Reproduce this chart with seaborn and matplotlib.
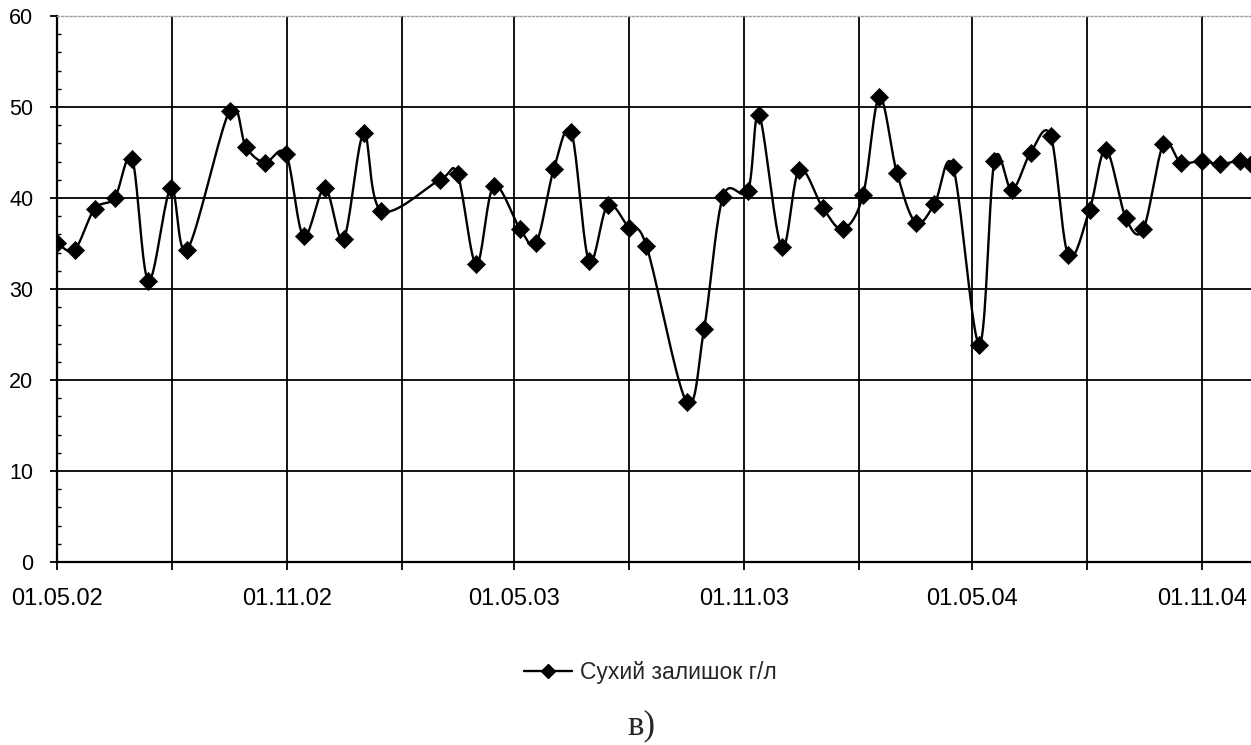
import numpy as np
import pandas as pd
import matplotlib
matplotlib.use("Agg")
import matplotlib.pyplot as plt
import matplotlib.dates as mdates
from matplotlib.lines import Line2D
import matplotlib.ticker as mticker
import seaborn as sns

# ---- data ----
dates = [
    "2002-05-01", "2002-05-15", "2002-05-31", "2002-06-16", "2002-06-30",
    "2002-07-13", "2002-07-31", "2002-08-13", "2002-09-16", "2002-09-29",
    "2002-10-14", "2002-10-31", "2002-11-14", "2002-12-01", "2002-12-16",
    "2003-01-01", "2003-01-15", "2003-03-03", "2003-03-17", "2003-04-01",
    "2003-04-15", "2003-05-06", "2003-05-19", "2003-06-02", "2003-06-16",
    "2003-06-30", "2003-07-15", "2003-08-01", "2003-08-15", "2003-09-16",
    "2003-09-30", "2003-10-15", "2003-11-04", "2003-11-13", "2003-12-01",
    "2003-12-15", "2004-01-03", "2004-01-19", "2004-02-04", "2004-02-17",
    "2004-03-02", "2004-03-17", "2004-04-01", "2004-04-16", "2004-05-07",
    "2004-05-19", "2004-06-02", "2004-06-17", "2004-07-03", "2004-07-17",
    "2004-08-03", "2004-08-16", "2004-09-01", "2004-09-15", "2004-10-01",
    "2004-10-15", "2004-11-01", "2004-11-15", "2004-12-01", "2004-12-10",
]
values = [
    35.1, 34.3, 38.8, 40.0, 44.3,
    30.9, 41.1, 34.3, 49.6, 45.6,
    43.9, 44.8, 35.8, 41.1, 35.5,
    47.1, 38.6, 42.0, 42.6, 32.7,
    41.3, 36.6, 35.1, 43.2, 47.2,
    33.1, 39.2, 36.7, 34.7, 17.6,
    25.6, 40.1, 40.8, 49.1, 34.6,
    43.1, 38.9, 36.6, 40.3, 51.1,
    42.8, 37.3, 39.3, 43.4, 23.9,
    44.1, 40.9, 45.0, 46.8, 33.7,
    38.7, 45.3, 37.8, 36.6, 45.9,
    43.9, 44.1, 43.7, 44.1, 43.7,
]
series_label = "Сухий залишок г/л"
caption = "в)"
y_ticks = [0, 10, 20, 30, 40, 50, 60]
grid_dates = ["2002-08-01", "2002-11-01", "2003-02-01", "2003-05-01", "2003-08-01",
              "2003-11-01", "2004-02-01", "2004-05-01", "2004-08-01", "2004-11-01"]

df = pd.DataFrame({"date": pd.to_datetime(dates), "value": values})
df["x"] = mdates.date2num(df["date"])

# smoothed curve (Catmull-Rom through the data points, like Excel's smoothed line)
def catmull_rom(xs, ys, n=20):
    xs = np.asarray(xs, float); ys = np.asarray(ys, float)
    px = np.concatenate([[xs[0]], xs, [xs[-1]]])
    py = np.concatenate([[ys[0]], ys, [ys[-1]]])
    ox, oy = [], []
    t = np.linspace(0, 1, n, endpoint=False)
    for i in range(1, len(px) - 2):
        for P, out in ((px, ox), (py, oy)):
            p0, p1, p2, p3 = P[i - 1], P[i], P[i + 1], P[i + 2]
            out.extend(0.5 * ((2 * p1) + (-p0 + p2) * t
                              + (2 * p0 - 5 * p1 + 4 * p2 - p3) * t ** 2
                              + (-p0 + 3 * p1 - 3 * p2 + p3) * t ** 3))
    ox.append(xs[-1]); oy.append(ys[-1])
    return np.array(ox), np.array(oy)

sx, sy = catmull_rom(df["x"], df["value"])
smooth = pd.DataFrame({"x": sx, "value": sy})

sns.set_theme(style="white")
plt.rcParams["font.family"] = ["Liberation Sans", "DejaVu Sans"]

fig = plt.figure(figsize=(12.51, 7.45), dpi=100)
ax = fig.add_axes([57 / 1251, 1 - 562 / 745, 1194 / 1251, (562 - 16) / 745])

sns.lineplot(data=smooth, x="x", y="value", ax=ax, color="black", lw=1.7,
             sort=False, estimator=None)
sns.scatterplot(data=df, x="x", y="value", ax=ax, marker="D", s=85,
                color="black", edgecolor="black", linewidth=0.5, zorder=5)

ax.set_xlim(df["x"].iloc[0], df["x"].iloc[-1])
ax.set_ylim(0, 60)
ax.set_xlabel("")
ax.set_ylabel("")

# x axis: major every 3 months, labels for May and November
ax.xaxis.set_major_locator(mdates.MonthLocator(bymonth=[2, 5, 8, 11]))
def xfmt(v, pos):
    d = mdates.num2date(v)
    return d.strftime("%d.%m.%y") if d.month in (5, 11) else ""
ax.xaxis.set_major_formatter(mticker.FuncFormatter(xfmt))
ax.set_yticks(y_ticks)
ax.yaxis.set_minor_locator(mticker.MultipleLocator(2))

ax.tick_params(axis="x", which="major", direction="out", length=6, width=1.3,
               color="black", labelsize=17, pad=13, bottom=True)
ax.tick_params(axis="y", which="major", direction="out", length=5, width=1.3,
               color="black", labelsize=15.5, pad=12, left=True)
ax.tick_params(axis="y", which="minor", direction="in", length=3, width=1.0,
               color="black", left=True)
for lbl in ax.get_xticklabels() + ax.get_yticklabels():
    lbl.set_color("black")

# grid
ax.grid(False)
for v in mdates.date2num(pd.to_datetime(grid_dates)):
    ax.axvline(v, color="black", lw=1.3, zorder=1)
for v in y_ticks[1:-1]:
    ax.axhline(v, color="black", lw=1.3, zorder=1)

ax.spines["right"].set_visible(False)
ax.spines["top"].set_color("#a0a0a0")
ax.spines["top"].set_linestyle((0, (1.5, 1.5)))
ax.spines["top"].set_linewidth(1.0)
ax.spines["left"].set_color("black")
ax.spines["left"].set_linewidth(1.6)
ax.spines["bottom"].set_color("black")
ax.spines["bottom"].set_linewidth(1.6)

if ax.get_legend():
    ax.get_legend().remove()

handle = Line2D([], [], color="black", lw=1.7, marker="D", markersize=7.5)
fig.legend([handle], [series_label], loc="center", bbox_to_anchor=(650 / 1251, 1 - 673 / 745),
           frameon=False, fontsize=16.5, handlelength=2.1, handletextpad=0.35)

fig.text(641 / 1251, 1 - 726 / 745, caption, ha="center", va="center",
         fontsize=25, family=["Liberation Serif", "DejaVu Serif"])

fig.savefig("out.png", dpi=100)
